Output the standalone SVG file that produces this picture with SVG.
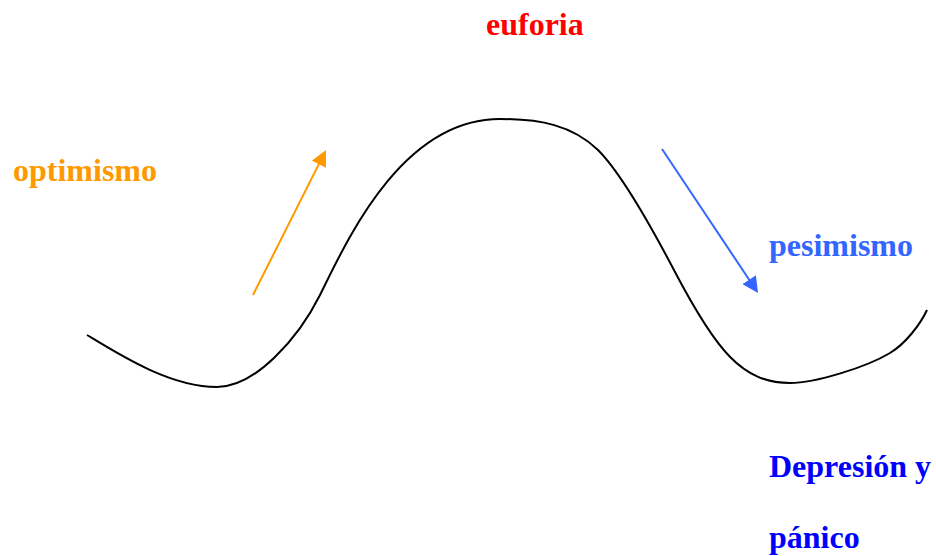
<svg xmlns="http://www.w3.org/2000/svg" width="936" height="556" viewBox="0 0 936 556">
<style>
.t{font-family:"Liberation Serif","Times New Roman",serif;font-weight:bold;font-size:32px}
</style>
<defs>
<marker id="ao" markerUnits="userSpaceOnUse" markerWidth="16" markerHeight="16" refX="6" refY="8" orient="auto"><path d="M0,0 L16,8 L0,16 z" fill="#ff9900"/></marker>
<marker id="ab" markerUnits="userSpaceOnUse" markerWidth="16" markerHeight="16" refX="6" refY="8" orient="auto"><path d="M0,0 L16,8 L0,16 z" fill="#3366ff"/></marker>
</defs>
<rect width="936" height="556" fill="#fff"/>
<g id="curve">
<path d="M87,335 C120,355 170,387 217,387 C255,387 298,339 320,295 C345,245 400,119 500,119 C540,119 572,125 598,150 C620,172 653,230 675,272 C716,350 742,383 790,383 C815,383 866,367.4 890,353 C905,344 920,325 927,310" fill="none" stroke="#000" stroke-width="2"/>
</g>
<g id="connectors">
<line x1="253" y1="295" x2="321.5" y2="158.9" stroke="#ff9900" stroke-width="2" marker-end="url(#ao)"/>
<line x1="662" y1="149" x2="752.5" y2="284.7" stroke="#3366ff" stroke-width="2" marker-end="url(#ab)"/>
</g>
<g id="euforia"><text class="t" x="486" y="35" fill="#ff0000">euforia</text></g>
<g id="optimismo"><text class="t" x="13" y="181" fill="#ff9900">optimismo</text></g>
<g id="pesimismo"><text class="t" x="769" y="256" fill="#3366ff">pesimismo</text></g>
<g id="depresion"><text class="t" x="769" y="477" fill="#0000ff">Depresión y</text><text class="t" x="769" y="548" fill="#0000ff">pánico</text></g>
</svg>
